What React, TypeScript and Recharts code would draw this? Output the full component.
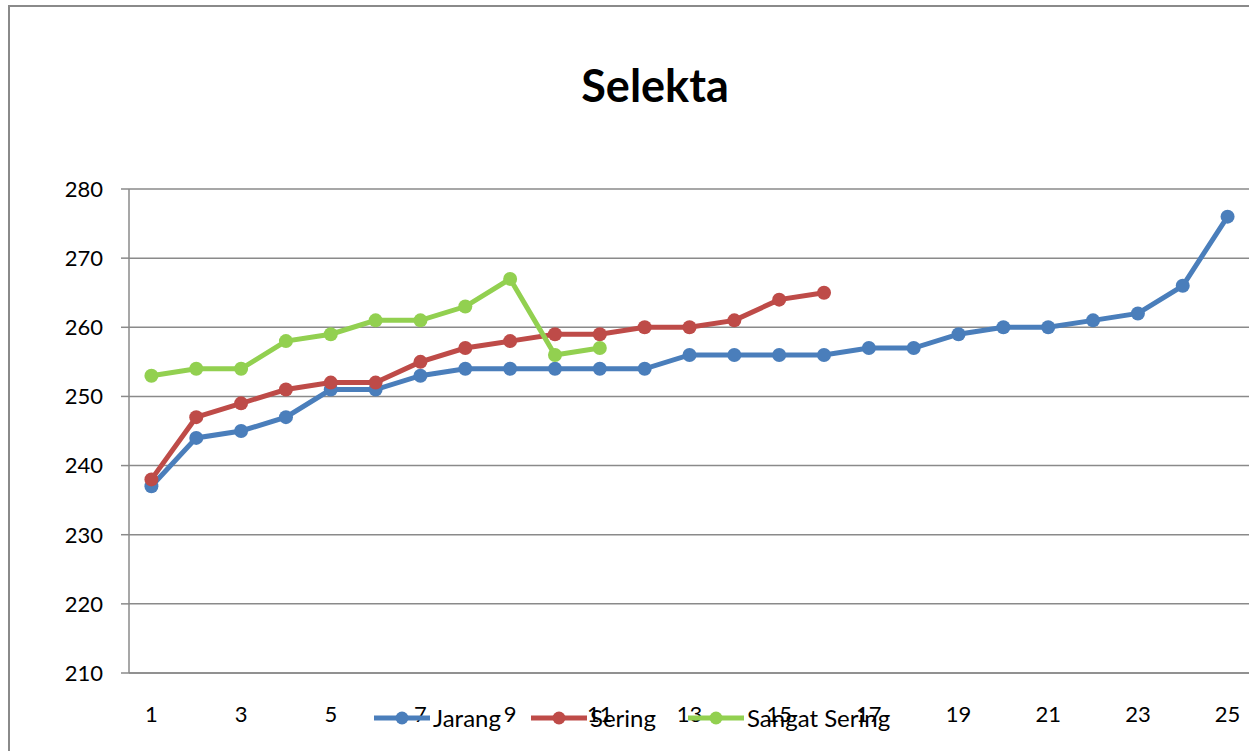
import { CartesianGrid, Legend, Line, LineChart, XAxis, YAxis } from 'recharts'

const categories = [1, 2, 3, 4, 5, 6, 7, 8, 9, 10, 11, 12, 13, 14, 15, 16, 17, 18, 19, 20, 21, 22, 23, 24, 25]
const jarang = [237, 244, 245, 247, 251, 251, 253, 254, 254, 254, 254, 254, 256, 256, 256, 256, 257, 257, 259, 260, 260, 261, 262, 266, 276]
const sering = [238, 247, 249, 251, 252, 252, 255, 257, 258, 259, 259, 260, 260, 261, 264, 265]
const sangatSering = [253, 254, 254, 258, 259, 261, 261, 263, 267, 256, 257]
const xTickLabels = [1, 3, 5, 7, 9, 11, 13, 15, 17, 19, 21, 23, 25]
const yTicks = [210, 220, 230, 240, 250, 260, 270, 280]

const series = [
  { key: 'jarang', name: 'Jarang', color: '#4a7ebb' },
  { key: 'sering', name: 'Sering', color: '#be4b48' },
  { key: 'sangat', name: 'Sangat Sering', color: '#92d050' },
]

const data = categories.map((x, i) => ({ x, jarang: jarang[i], sering: sering[i], sangat: sangatSering[i] }))
const boundaryTicks = [...categories.map((c) => c - 0.5), categories[categories.length - 1] + 0.5]

const font = 'Lato, "Open Sans", sans-serif'
const gray = '#8a8a8a'

// Excel keeps the legend in series order, so draw it from the series list
function ExcelLegend() {
  return <div style={{ display: 'flex', alignItems: 'center', fontFamily: font, fontSize: 24, color: '#000' }}>
    {series.map((item) => <div key={item.key} style={{ display: 'flex', alignItems: 'center', width: 157, whiteSpace: 'nowrap' }}>
      <svg width={56} height={24} style={{ flex: 'none' }}>
        <line x1={0} x2={56} y1={12} y2={12} stroke={item.color} strokeWidth={5} />
        <circle cx={28} cy={12} r={6.5} fill={item.color} />
      </svg>
      <span style={{ marginLeft: 3, lineHeight: '24px' }}>{item.name}</span>
    </div>)}
  </div>
}

export default function App() {
  return <div style={{ position: 'absolute', left: 0, top: 0, width: 1249, height: 751, overflow: 'hidden', background: '#fff' }}>
    <div style={{ position: 'absolute', left: 8, top: 5, width: 1400, height: 900, border: `2.5px solid ${gray}` }} />
    <div style={{ position: 'absolute', left: 655, top: 63, transform: 'translateX(-50%)', fontFamily: font, fontWeight: 700, fontSize: 45, lineHeight: '45px', whiteSpace: 'nowrap', color: '#000' }}>Selekta</div>
    <div style={{ position: 'absolute', left: 0, top: 0 }}>
      <LineChart width={1300} height={751} data={data} margin={{ top: 189, right: 50, bottom: 76, left: 69 }}>
        <CartesianGrid horizontal vertical={false} stroke={gray} strokeWidth={1.5} />
        <XAxis xAxisId={0} dataKey="x" type="number" domain={[0.5, 25.5]} ticks={boundaryTicks} tick={false} height={1} interval={0}
          axisLine={{ stroke: gray, strokeWidth: 1.5 }} tickLine={{ stroke: gray, strokeWidth: 1.5 }} tickSize={8} />
        <XAxis xAxisId="labels" dataKey="x" type="number" domain={[0.5, 25.5]} ticks={xTickLabels} height={1}
          axisLine={false} tickLine={false} tickSize={0} tickMargin={32} interval={0}
          tick={{ fill: '#000', fontSize: 22, fontFamily: font }} />
        <YAxis type="number" domain={[210, 280]} ticks={yTicks} width={60} interval={0}
          axisLine={{ stroke: gray, strokeWidth: 1.5 }} tickLine={{ stroke: gray, strokeWidth: 1.5 }} tickSize={8} tickMargin={18}
          tick={{ fill: '#000', fontSize: 22, fontFamily: font }} />
        <Legend layout="horizontal" verticalAlign="middle" align="center" content={<ExcelLegend />}
          wrapperStyle={{ left: 374, top: 706, width: 700, height: 24 }} />
        {series.map((s) => <Line key={s.key} dataKey={s.key} name={s.name} stroke={s.color} fill={s.color} strokeWidth={5}
          dot={{ r: 7, fill: s.color, stroke: s.color, strokeWidth: 0 }} activeDot={false} isAnimationActive={false} />)}
      </LineChart>
    </div>
  </div>
}
